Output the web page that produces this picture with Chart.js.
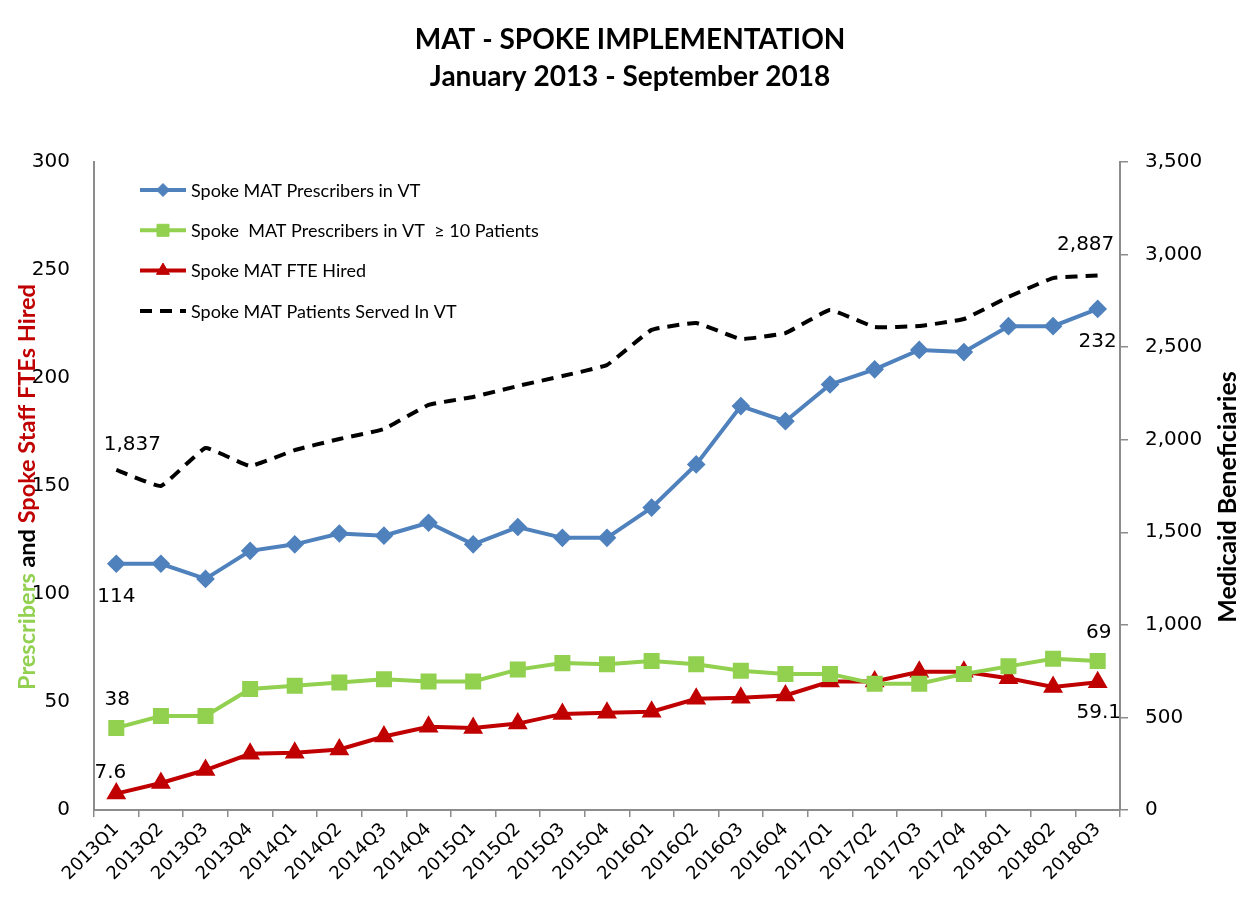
<!DOCTYPE html>
<html>
<head>
<meta charset="utf-8">
<script src="https://cdn.jsdelivr.net/npm/chart.js@4.4.1/dist/chart.umd.min.js"></script>
<style>
  html, body { margin: 0; padding: 0; background: #fff; }
  #wrap { width: 1245px; height: 907px; }
</style>
</head>
<body>
<div id="wrap"><canvas id="c" width="1245" height="907"></canvas></div>
<script>
const quarters = ['2013Q1','2013Q2','2013Q3','2013Q4','2014Q1','2014Q2','2014Q3','2014Q4',
  '2015Q1','2015Q2','2015Q3','2015Q4','2016Q1','2016Q2','2016Q3','2016Q4',
  '2017Q1','2017Q2','2017Q3','2017Q4','2018Q1','2018Q2','2018Q3'];
const prescribers = [114,114,107,120,123,128,127,133,123,131,126,126,140,160,187,180,197,204,213,212,224,224,232];
const prescribers10 = [38,43.5,43.5,56,57.5,59,60.5,59.5,59.5,65,68,67.5,69,67.5,64.5,63,63,58.5,58.5,63,66.5,70,69];
const fteHired = [7.6,12.5,18.5,26,26.5,28,34,38.5,38,40,44.5,45,45.5,51.5,52,53,59.5,59.5,64,64,61,57,59.1];
const patients = [1837,1750,1955,1858,1944,2004,2058,2188,2231,2290,2344,2404,2593,2630,2544,2576,2700,2609,2614,2652,2771,2873,2887];
const seriesNames = ['Spoke MAT Prescribers in VT','Spoke  MAT Prescribers in VT  \u2265 10 Patients','Spoke MAT FTE Hired','Spoke MAT Patients Served In VT'];
const leftTicks = {min: 0, max: 300, step: 50};
const rightTicks = {min: 0, max: 3500, step: 500};
const titleLines = ['MAT - SPOKE IMPLEMENTATION', 'January 2013 - September 2018'];
const leftTitleParts = [['Prescribers', '#92D050'], [' and ', '#000000'], ['Spoke Staff FTEs Hired', '#C00000']];
const rightTitle = 'Medicaid Beneficiaries';

const fmt = v => v.toLocaleString('en-US');

// label placements: [datasetIndex, pointIndex, dx, dy]
const labelSpots = [[3,0,16,-25],[0,0,0,33],[1,0,1,-28],[2,0,-6,-21],
                    [3,22,-12,-31],[0,22,0,33],[1,22,1,-28],[2,22,1,30]];

const TICK_FONT = 'DejaVu Sans';
const TEXT_FONT = 'Lato';

const decorPlugin = {
  id: 'decor',
  afterDraw(chart) {
    const ctx = chart.ctx;
    ctx.save();
    // title
    ctx.fillStyle = '#000';
    ctx.font = 'bold 28px ' + TEXT_FONT;
    ctx.textAlign = 'center';
    ctx.textBaseline = 'middle';
    ctx.fillText(titleLines[0], 630, 40);
    ctx.fillText(titleLines[1], 630, 77);

    // left axis title (multi-color)
    ctx.font = 'bold 23.5px ' + TEXT_FONT;
    let total = 0;
    leftTitleParts.forEach(p => total += ctx.measureText(p[0]).width);
    ctx.save();
    ctx.translate(27, 487);
    ctx.rotate(-Math.PI / 2);
    ctx.textAlign = 'left';
    let x = -total / 2;
    leftTitleParts.forEach(p => {
      ctx.fillStyle = p[1];
      ctx.fillText(p[0], x, 0);
      x += ctx.measureText(p[0]).width;
    });
    ctx.restore();

    // right axis title
    ctx.save();
    ctx.font = 'bold 25px ' + TEXT_FONT;
    ctx.translate(1228, 497);
    ctx.rotate(-Math.PI / 2);
    ctx.fillStyle = '#000';
    ctx.textAlign = 'center';
    ctx.fillText(rightTitle, 0, 0);
    ctx.restore();

    // legend
    ctx.font = '18px ' + TEXT_FONT;
    ctx.textAlign = 'left';
    chart.data.datasets.forEach((ds, i) => {
      const y = 190 + i * 40.3;
      ctx.save();
      ctx.strokeStyle = ds.borderColor;
      ctx.lineWidth = ds.borderWidth;
      ctx.setLineDash(ds.borderDash || []);
      ctx.beginPath();
      ctx.moveTo(140, y);
      ctx.lineTo(186, y);
      ctx.stroke();
      ctx.restore();
      if (ds.pointRadius > 0) {
        ctx.fillStyle = ds.pointBackgroundColor;
        ctx.strokeStyle = ds.pointBorderColor;
        ctx.lineWidth = 1;
        Chart.helpers.drawPoint(ctx, {pointStyle: ds.pointStyle, radius: ds.pointRadius, borderWidth: 1, rotation: 0}, 163, y);
      }
      ctx.fillStyle = '#000';
      ctx.fillText(ds.label, 191, y + 1);
    });

    // data labels
    ctx.font = '20px ' + TICK_FONT;
    ctx.textAlign = 'center';
    ctx.fillStyle = '#000';
    labelSpots.forEach(([di, pi, dx, dy]) => {
      const pt = chart.getDatasetMeta(di).data[pi];
      const v = chart.data.datasets[di].data[pi];
      const txt = di === 3 ? fmt(v) : String(v);
      ctx.fillText(txt, pt.x + dx, pt.y + dy);
    });
    ctx.restore();
  }
};

new Chart(document.getElementById('c'), {
  type: 'line',
  data: {
    labels: quarters,
    datasets: [
      {label: seriesNames[0], data: prescribers, yAxisID: 'y', borderColor: '#4F81BD', backgroundColor: '#4F81BD',
       borderWidth: 4, pointStyle: 'rectRot', pointRadius: 6.5, pointBackgroundColor: '#4F81BD', pointBorderColor: '#4F81BD', tension: 0},
      {label: seriesNames[1], data: prescribers10, yAxisID: 'y', borderColor: '#92D050', backgroundColor: '#92D050',
       borderWidth: 4, pointStyle: 'rect', pointRadius: 8.5, pointBackgroundColor: '#92D050', pointBorderColor: '#92D050', tension: 0},
      {label: seriesNames[2], data: fteHired, yAxisID: 'y', borderColor: '#C00000', backgroundColor: '#C00000',
       borderWidth: 4, pointStyle: 'triangle', pointRadius: 7.5, pointBackgroundColor: '#C00000', pointBorderColor: '#C00000', tension: 0},
      {label: seriesNames[3], data: patients, yAxisID: 'y1', borderColor: '#000000', backgroundColor: '#000000',
       borderWidth: 4, borderDash: [12, 8], pointRadius: 0, tension: 0.1}
    ]
  },
  options: {
    responsive: false,
    animation: false,
    events: [],
    layout: {padding: {top: 162, left: 0, right: 0, bottom: 0}},
    plugins: {legend: {display: false}, tooltip: {enabled: false}, title: {display: false}},
    scales: {
      x: {
        type: 'category', offset: true,
        grid: {display: true, drawOnChartArea: false, offset: true, tickLength: 7, color: '#8c8c8c', lineWidth: 1.5},
        border: {color: '#8c8c8c', width: 2},
        ticks: {minRotation: 45, maxRotation: 45, autoSkip: false, color: '#000', font: {family: TICK_FONT, size: 18}, padding: 2},
        afterFit(s) { s.height = 97; }
      },
      y: {
        position: 'left', min: leftTicks.min, max: leftTicks.max,
        grid: {display: true, drawOnChartArea: false, drawTicks: false, color: '#8c8c8c'},
        border: {color: '#8c8c8c', width: 2},
        ticks: {stepSize: leftTicks.step, color: '#000', font: {family: TICK_FONT, size: 20}, padding: 24},
        afterFit(s) { s.width = 94; }
      },
      y1: {
        position: 'right', min: rightTicks.min, max: rightTicks.max,
        grid: {display: true, drawOnChartArea: false, tickLength: 8, color: '#8c8c8c', lineWidth: 1.5},
        border: {color: '#8c8c8c', width: 2},
        ticks: {stepSize: rightTicks.step, color: '#000', font: {family: TICK_FONT, size: 20}, padding: 17,
                callback: v => fmt(v)},
        afterFit(s) { s.width = 125; }
      }
    }
  },
  plugins: [decorPlugin]
});
</script>
</body>
</html>
